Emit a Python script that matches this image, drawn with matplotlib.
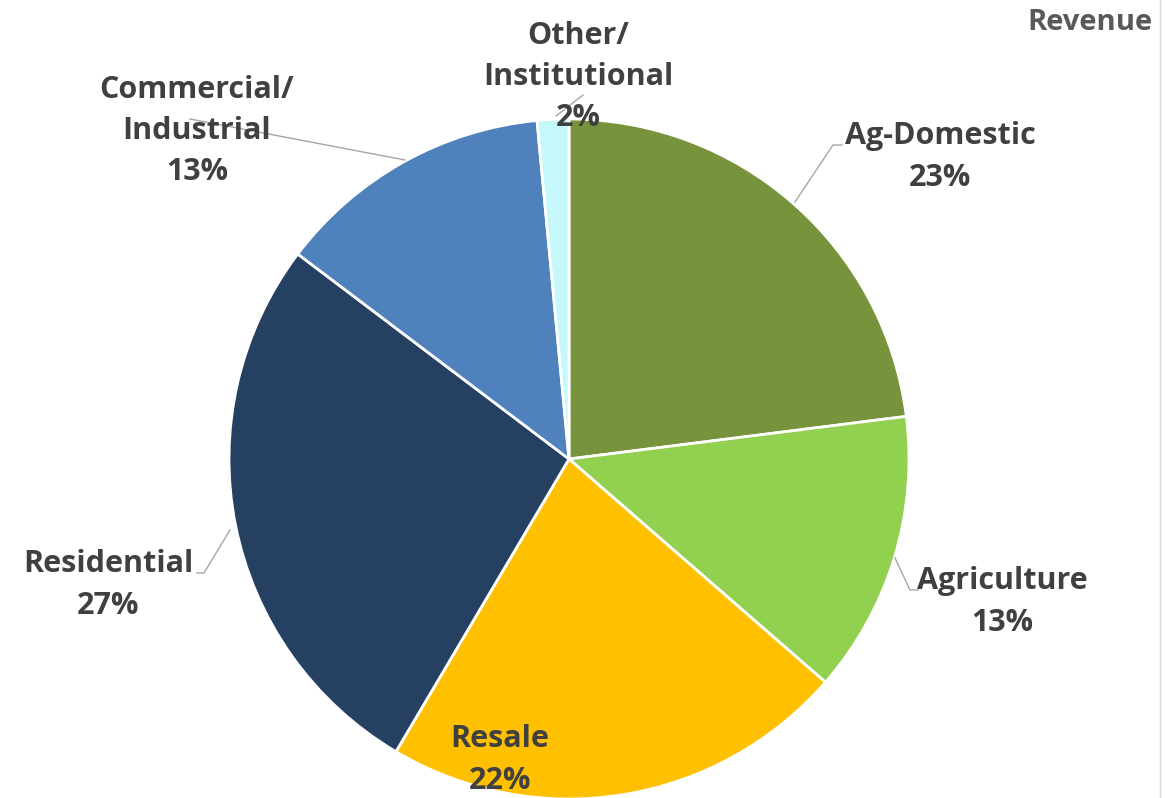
import matplotlib.pyplot as plt
from matplotlib.lines import Line2D

W, H = 1166, 798

categories = ["Ag-Domestic", "Agriculture", "Resale", "Residential",
              "Commercial/\nIndustrial", "Other/\nInstitutional"]
shares = [23.0, 13.4, 22.1, 26.8, 13.2, 1.5]
colors = ["#77933C", "#92D050", "#FFC000", "#254061", "#4F81BD", "#C6F7FB"]

# label centres and leader lines, in pixel coords (y from top)
label_pos = [(940, 157), (1002, 602), (500, 760), (108, 585), (197, 131), (578, 77)]
leaders = [
    [(795, 202), (833, 145), (842, 145)],
    [(895, 558), (910, 590), (918, 590)],
    None,
    [(230, 530), (204, 573), (197, 573)],
    [(405, 160), (190, 119)],
    [(556, 116), (583, 95)],
]

TEXT = "#404040"


def py(y):
    return H - y


fig = plt.figure(figsize=(W / 100, H / 100), dpi=100)
ax = fig.add_axes([0, 0, 1, 1])

ax.pie(shares, colors=colors, startangle=90, counterclock=False,
       center=(569, py(459)), radius=340, frame=True,
       wedgeprops=dict(edgecolor="white", linewidth=2))
ax.set_xlim(0, W)
ax.set_ylim(0, H)
ax.set_aspect("equal")
ax.axis("off")

for name, share, (x, y), lead in zip(categories, shares, label_pos, leaders):
    if lead:
        xs = [p[0] for p in lead]
        ys = [py(p[1]) for p in lead]
        ax.plot(xs, ys, color="#A6A6A6", linewidth=1, zorder=3)
    ax.text(x, py(y), f"{name}\n{round(share)}%", ha="center", va="center",
            fontsize=22, fontweight="bold", color=TEXT, family="Open Sans",
            linespacing=1.5, zorder=4)

ax.text(1153, py(22), "Revenue", ha="right", va="center", fontsize=21,
        fontweight="bold", color="#595959", family="Open Sans")
fig.add_artist(Line2D([1160 / W, 1160 / W], [0, 1], color="#D9D9D9", linewidth=1))

fig.savefig("out.png", dpi=100)
